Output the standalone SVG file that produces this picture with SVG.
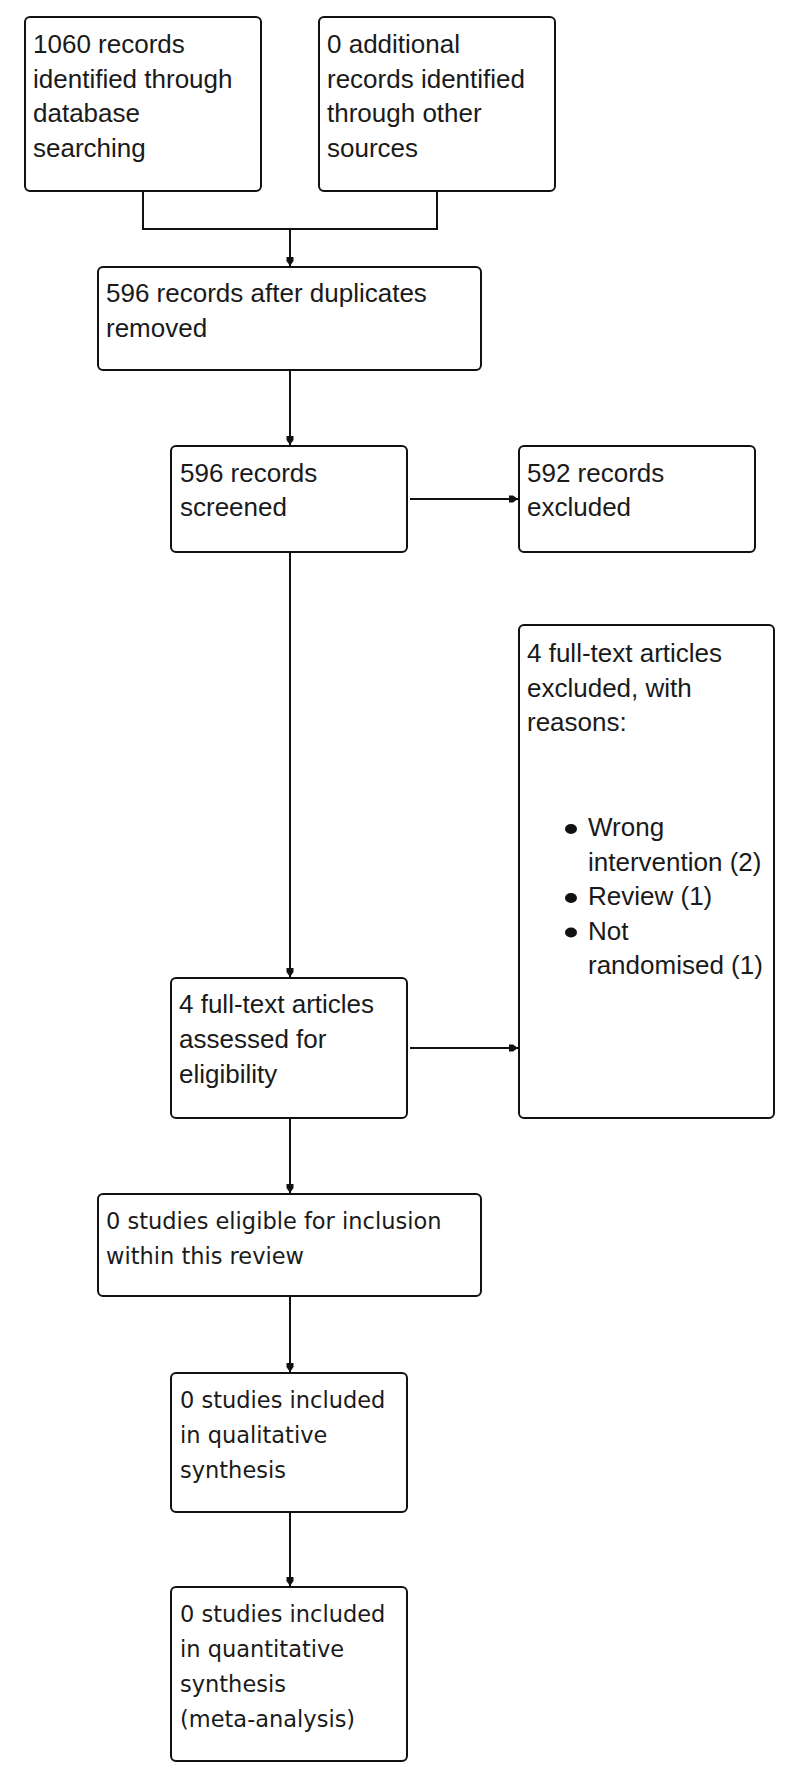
<svg xmlns="http://www.w3.org/2000/svg" width="800" height="1779" viewBox="0 0 800 1779">
<style>
.box{fill:#fff;stroke:#111;stroke-width:2}
.t{font-family:"Liberation Sans",Arial,sans-serif;font-size:26px;fill:#1a1a1a}
.v{font-family:"DejaVu Sans",Verdana,sans-serif;font-size:22.5px;fill:#1a1a1a}
.c{fill:none;stroke:#111;stroke-width:2}
.b{fill:#111}
</style>
<defs>
<marker id="ah" markerUnits="userSpaceOnUse" markerWidth="10" markerHeight="8" refX="9" refY="4" orient="auto">
<path d="M0,0.5 L4,0.5 L9,4 L4,7.5 L0,7.5 z" fill="#111"/>
</marker>
</defs>
<rect width="800" height="1779" fill="#fff"/>
<g id="connectors">
<path class="c" d="M143,191 V229 H437 V191"/>
<path class="c" d="M290,229 V266" marker-end="url(#ah)"/>
<path class="c" d="M290,370 V445" marker-end="url(#ah)"/>
<path class="c" d="M410,499 H518" marker-end="url(#ah)"/>
<path class="c" d="M290,552 V977" marker-end="url(#ah)"/>
<path class="c" d="M410,1048 H518" marker-end="url(#ah)"/>
<path class="c" d="M290,1118 V1193" marker-end="url(#ah)"/>
<path class="c" d="M290,1296 V1372" marker-end="url(#ah)"/>
<path class="c" d="M290,1512 V1586" marker-end="url(#ah)"/>
</g>
<g id="n1">
<rect class="box" x="25" y="17" width="236" height="174" rx="5"/>
<text class="t"><tspan x="33" y="53">1060 records</tspan><tspan x="33" y="87.5">identified through</tspan><tspan x="33" y="122">database</tspan><tspan x="33" y="156.5">searching</tspan></text>
</g>
<g id="n2">
<rect class="box" x="319" y="17" width="236" height="174" rx="5"/>
<text class="t"><tspan x="327" y="53">0 additional</tspan><tspan x="327" y="87.5">records identified</tspan><tspan x="327" y="122">through other</tspan><tspan x="327" y="156.5">sources</tspan></text>
</g>
<g id="n3">
<rect class="box" x="98" y="267" width="383" height="103" rx="5"/>
<text class="t"><tspan x="106" y="302">596 records after duplicates</tspan><tspan x="106" y="336.5">removed</tspan></text>
</g>
<g id="n4">
<rect class="box" x="171" y="446" width="236" height="106" rx="5"/>
<text class="t"><tspan x="180" y="481.5">596 records</tspan><tspan x="180" y="516">screened</tspan></text>
</g>
<g id="n5">
<rect class="box" x="519" y="446" width="236" height="106" rx="5"/>
<text class="t"><tspan x="527" y="481.5">592 records</tspan><tspan x="527" y="516">excluded</tspan></text>
</g>
<g id="n6">
<rect class="box" x="171" y="978" width="236" height="140" rx="5"/>
<text class="t"><tspan x="179" y="1013">4 full-text articles</tspan><tspan x="179" y="1048">assessed for</tspan><tspan x="179" y="1082.5">eligibility</tspan></text>
</g>
<g id="n7">
<rect class="box" x="519" y="625" width="255" height="493" rx="5"/>
<text class="t"><tspan x="527" y="662">4 full-text articles</tspan><tspan x="527" y="696.5">excluded, with</tspan><tspan x="527" y="731">reasons:</tspan></text>
<ellipse class="b" cx="571" cy="829" rx="6" ry="5"/>
<ellipse class="b" cx="571" cy="898" rx="6" ry="5"/>
<ellipse class="b" cx="571" cy="932.5" rx="6" ry="5"/>
<text class="t"><tspan x="588" y="836">Wrong</tspan><tspan x="588" y="870.5">intervention (2)</tspan><tspan x="588" y="905">Review (1)</tspan><tspan x="588" y="939.5">Not</tspan><tspan x="588" y="974">randomised (1)</tspan></text>
</g>
<g id="n8">
<rect class="box" x="98" y="1194" width="383" height="102" rx="5"/>
<text class="v"><tspan x="106" y="1229">0 studies eligible for inclusion</tspan><tspan x="106" y="1263.5">within this review</tspan></text>
</g>
<g id="n9">
<rect class="box" x="171" y="1373" width="236" height="139" rx="5"/>
<text class="v"><tspan x="180" y="1408">0 studies included</tspan><tspan x="180" y="1443">in qualitative</tspan><tspan x="180" y="1478">synthesis</tspan></text>
</g>
<g id="n10">
<rect class="box" x="171" y="1587" width="236" height="174" rx="5"/>
<text class="v"><tspan x="180" y="1622">0 studies included</tspan><tspan x="180" y="1657">in quantitative</tspan><tspan x="180" y="1692">synthesis</tspan><tspan x="180" y="1727">(meta-analysis)</tspan></text>
</g>
</svg>
